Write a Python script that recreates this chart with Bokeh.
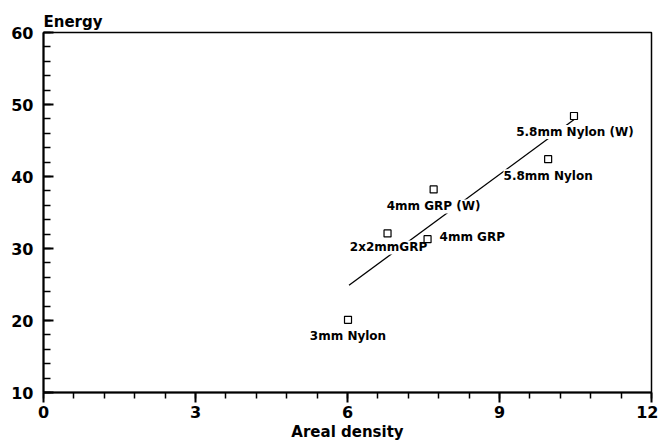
import numpy as np
from bokeh.plotting import figure
from bokeh.models import ColumnDataSource, LabelSet, FixedTicker, Range1d
from bokeh.embed import file_html
from bokeh.resources import INLINE
from bokeh.core.properties import value

# ---- data ----
materials = ["3mm Nylon", "2x2mmGRP", "4mm GRP", "4mm GRP (W)", "5.8mm Nylon", "5.8mm Nylon (W)"]
areal_density = [6.01, 6.79, 7.58, 7.70, 9.96, 10.47]
energy = [20.1, 32.1, 31.3, 38.2, 42.4, 48.4]
fit_density = [6.03, 10.50]
fit_energy = [24.9, 48.05]
x_ticks = [0, 3, 6, 9, 12]
y_ticks = [10, 20, 30, 40, 50, 60]
x_minor = [round(v, 2) for v in np.arange(0, 12.01, 0.6)]
y_minor = list(range(10, 61, 2))

# ---- label placement (styling, pixels) ----
label_dx = [0, 1, 12, 0, 0, 1]
label_dy = [-16, -14, 2, -17, -17, -16]
label_align = ["center", "center", "left", "center", "center", "center"]

FONT = "DejaVu Sans"

p = figure(width=658, height=444, x_range=Range1d(0, 12), y_range=Range1d(10, 60),
           output_backend="svg", toolbar_location=None, title="Energy",
           min_border_left=43, min_border_right=7, min_border_top=32, min_border_bottom=52)
p.background_fill_color = "white"
p.border_fill_color = "white"
p.xgrid.visible = False
p.ygrid.visible = False
p.outline_line_color = "black"
p.outline_line_width = 1.5

p.title.align = "left"
p.title.offset = 0
p.title.standoff = 3
p.title.text_font = FONT
p.title.text_font_style = "bold"
p.title.text_font_size = "15px"
p.title.text_color = "black"

p.xaxis.ticker = FixedTicker(ticks=x_ticks, minor_ticks=x_minor)
p.yaxis.ticker = FixedTicker(ticks=y_ticks, minor_ticks=y_minor)
for ax in (p.xaxis, p.yaxis):
    ax.axis_line_width = 2
    ax.axis_line_color = "black"
    ax.major_tick_line_width = 2
    ax.minor_tick_line_width = 1.5
    ax.major_tick_line_color = "black"
    ax.minor_tick_line_color = "black"
    ax.major_label_text_font = FONT
    ax.major_label_text_font_style = "bold"
    ax.major_label_text_font_size = "16px"
    ax.major_label_text_color = "black"
p.xaxis.major_tick_out = 10
p.xaxis.major_tick_in = 0
p.xaxis.minor_tick_out = 6
p.xaxis.minor_tick_in = 0
p.xaxis.major_label_standoff = 3
p.xaxis.axis_label = "Areal density"
p.xaxis.axis_label_standoff = 2
p.xaxis.axis_label_text_font = FONT
p.xaxis.axis_label_text_font_style = "bold"
p.xaxis.axis_label_text_font_size = "15px"
p.xaxis.axis_label_text_color = "black"
p.yaxis.major_tick_in = 10
p.yaxis.major_tick_out = 0
p.yaxis.minor_tick_in = 7
p.yaxis.minor_tick_out = 0
p.yaxis.major_label_standoff = 10

p.line(fit_density, fit_energy, line_color="black", line_width=1.3)

def subset(align):
    idx = [i for i, a in enumerate(label_align) if a == align]
    return ColumnDataSource(dict(
        x=[areal_density[i] for i in idx],
        y=[energy[i] for i in idx],
        t=[materials[i] for i in idx],
        dx=[label_dx[i] for i in idx],
        dy=[label_dy[i] for i in idx],
    ))

for align in ("center", "left"):
    p.add_layout(LabelSet(x="x", y="y", text="t", source=subset(align),
                          x_offset="dx", y_offset="dy",
                          text_align=align, text_baseline="middle", text_font=value(FONT),
                          text_font_style="bold", text_font_size="12px", text_color="black",
                          background_fill_color="white"))

p.scatter(areal_density, energy, marker="square", size=7, fill_color="white",
          line_color="black", line_width=1.2, level="overlay")

open("out.html", "w").write(file_html(p, INLINE))
